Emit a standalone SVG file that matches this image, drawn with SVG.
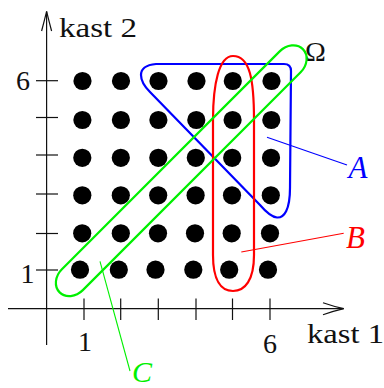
<svg xmlns="http://www.w3.org/2000/svg" width="384" height="388" viewBox="0 0 384 388">
<style>
.ax{stroke:#111;stroke-width:1.2;fill:none}
.dot{fill:#000}
.lbl{font-family:"Liberation Serif",serif;fill:#111}
.it{font-family:"Liberation Serif",serif;font-style:italic}
.set{fill:none;stroke-width:2.2}
.lead{stroke-width:1.1;fill:none}
</style>
<rect width="384" height="388" fill="#fff"/>
<g id="axes">
  <line class="ax" x1="46.6" y1="345" x2="46.6" y2="11.5"/>
  <line class="ax" x1="8" y1="308.7" x2="343.5" y2="308.7"/>
  <path class="ax" d="M41.6 31 Q44.5 20 46.6 11.3 Q48.7 20 51.6 31"/>
  <path class="ax" d="M323 302.7 Q334 306.5 343.8 308.7 Q334 311 323 314.7"/>
  <g class="ax">
    <line x1="36" y1="270" x2="58" y2="270"/>
    <line x1="36" y1="233.5" x2="58" y2="233.5"/>
    <line x1="36" y1="194" x2="58" y2="194"/>
    <line x1="36" y1="155" x2="58" y2="155"/>
    <line x1="36" y1="117.5" x2="58" y2="117.5"/>
    <line x1="36" y1="80.7" x2="58" y2="80.7"/>
    <line x1="84" y1="298.5" x2="84" y2="320"/>
    <line x1="120.7" y1="298.5" x2="120.7" y2="320"/>
    <line x1="158.3" y1="298.5" x2="158.3" y2="320"/>
    <line x1="196" y1="298.5" x2="196" y2="320"/>
    <line x1="232.5" y1="298.5" x2="232.5" y2="320"/>
    <line x1="270" y1="298.5" x2="270" y2="320"/>
  </g>
  <text class="lbl" x="23" y="90" font-size="28" text-anchor="middle">6</text>
  <text class="lbl" x="27.5" y="282.5" font-size="28" text-anchor="middle">1</text>
  <text class="lbl" x="85" y="350.5" font-size="28" text-anchor="middle">1</text>
  <text class="lbl" x="270" y="353" font-size="28" text-anchor="middle">6</text>
  <text class="lbl" x="59" y="37" font-size="27" textLength="78" lengthAdjust="spacingAndGlyphs">kast 2</text>
  <text class="lbl" x="307" y="343" font-size="28" textLength="77" lengthAdjust="spacingAndGlyphs">kast 1</text>
  <text class="lbl" x="315.5" y="60.5" font-size="28" text-anchor="middle">Ω</text>
</g>
<g id="dots" class="dot">
  <circle cx="82.5" cy="81" r="9.1"/><circle cx="121" cy="81" r="9.1"/><circle cx="158.5" cy="81" r="9.1"/><circle cx="196.5" cy="81" r="9.1"/><circle cx="232.8" cy="81" r="9.1"/><circle cx="271.5" cy="81" r="9.1"/>
  <circle cx="82.4" cy="120" r="9.1"/><circle cx="120.9" cy="120" r="9.1"/><circle cx="158.4" cy="120" r="9.1"/><circle cx="196.3" cy="120" r="9.1"/><circle cx="232.6" cy="120" r="9.1"/><circle cx="271.3" cy="120" r="9.1"/>
  <circle cx="82.3" cy="157.8" r="9.1"/><circle cx="120.8" cy="157.8" r="9.1"/><circle cx="158.3" cy="157.8" r="9.1"/><circle cx="195.8" cy="157.8" r="9.1"/><circle cx="232.2" cy="157.8" r="9.1"/><circle cx="271" cy="157.8" r="9.1"/>
  <circle cx="82.3" cy="195.3" r="9.1"/><circle cx="120.8" cy="195.3" r="9.1"/><circle cx="158.2" cy="195.3" r="9.1"/><circle cx="195.6" cy="195.3" r="9.1"/><circle cx="232" cy="195.3" r="9.1"/><circle cx="270.8" cy="195.3" r="9.1"/>
  <circle cx="82.2" cy="233.3" r="9.1"/><circle cx="120.8" cy="233.3" r="9.1"/><circle cx="158" cy="233.3" r="9.1"/><circle cx="195" cy="233.3" r="9.1"/><circle cx="231.7" cy="233.3" r="9.1"/><circle cx="270" cy="233.3" r="9.1"/>
  <circle cx="80" cy="269.7" r="9.1"/><circle cx="118.8" cy="269.7" r="9.1"/><circle cx="155.5" cy="269.7" r="9.1"/><circle cx="193.3" cy="269.7" r="9.1"/><circle cx="229.2" cy="269.7" r="9.1"/><circle cx="268" cy="269.7" r="9.1"/>
</g>
<g id="setA">
  <path class="set" stroke="#0000ff" d="M156 64 L284 64 Q291 64 291 71 L290 188 C290 210 284 218 277 217.5 C271 217 266 212 260 205 L150 92 C140 82 134 66 156 64 Z"/>
  <text class="it" x="348.5" y="177.5" font-size="31" fill="#0000ff">A</text>
</g>
<g id="setB">
  <path class="set" stroke="#ff0000" d="M233 56 C250 56 254 80 254 120 L254 255 C254 280 245 291 233 291 C221 291 213 280 213 255 L213 120 C213 84 219 56 233 56 Z"/>
  <text class="it" x="346" y="247.5" font-size="31" fill="#ff0000">B</text>
</g>
<g id="setC">
  <rect class="set" stroke="#00f000" x="-172" y="-14.8" width="344" height="29.6" rx="18" ry="14.8" transform="translate(181.25 170.75) rotate(-45)"/>
  <text class="it" x="132" y="382" font-size="30" fill="#00f000">C</text>
</g>
<g id="connectors">
  <line class="lead" stroke="#0000ff" x1="267" y1="137.3" x2="347" y2="165"/>
  <line class="lead" stroke="#ff0000" x1="241.3" y1="252" x2="343.7" y2="233.3"/>
  <line class="lead" stroke="#00f000" x1="100" y1="261.3" x2="130" y2="371"/>
</g>
</svg>
